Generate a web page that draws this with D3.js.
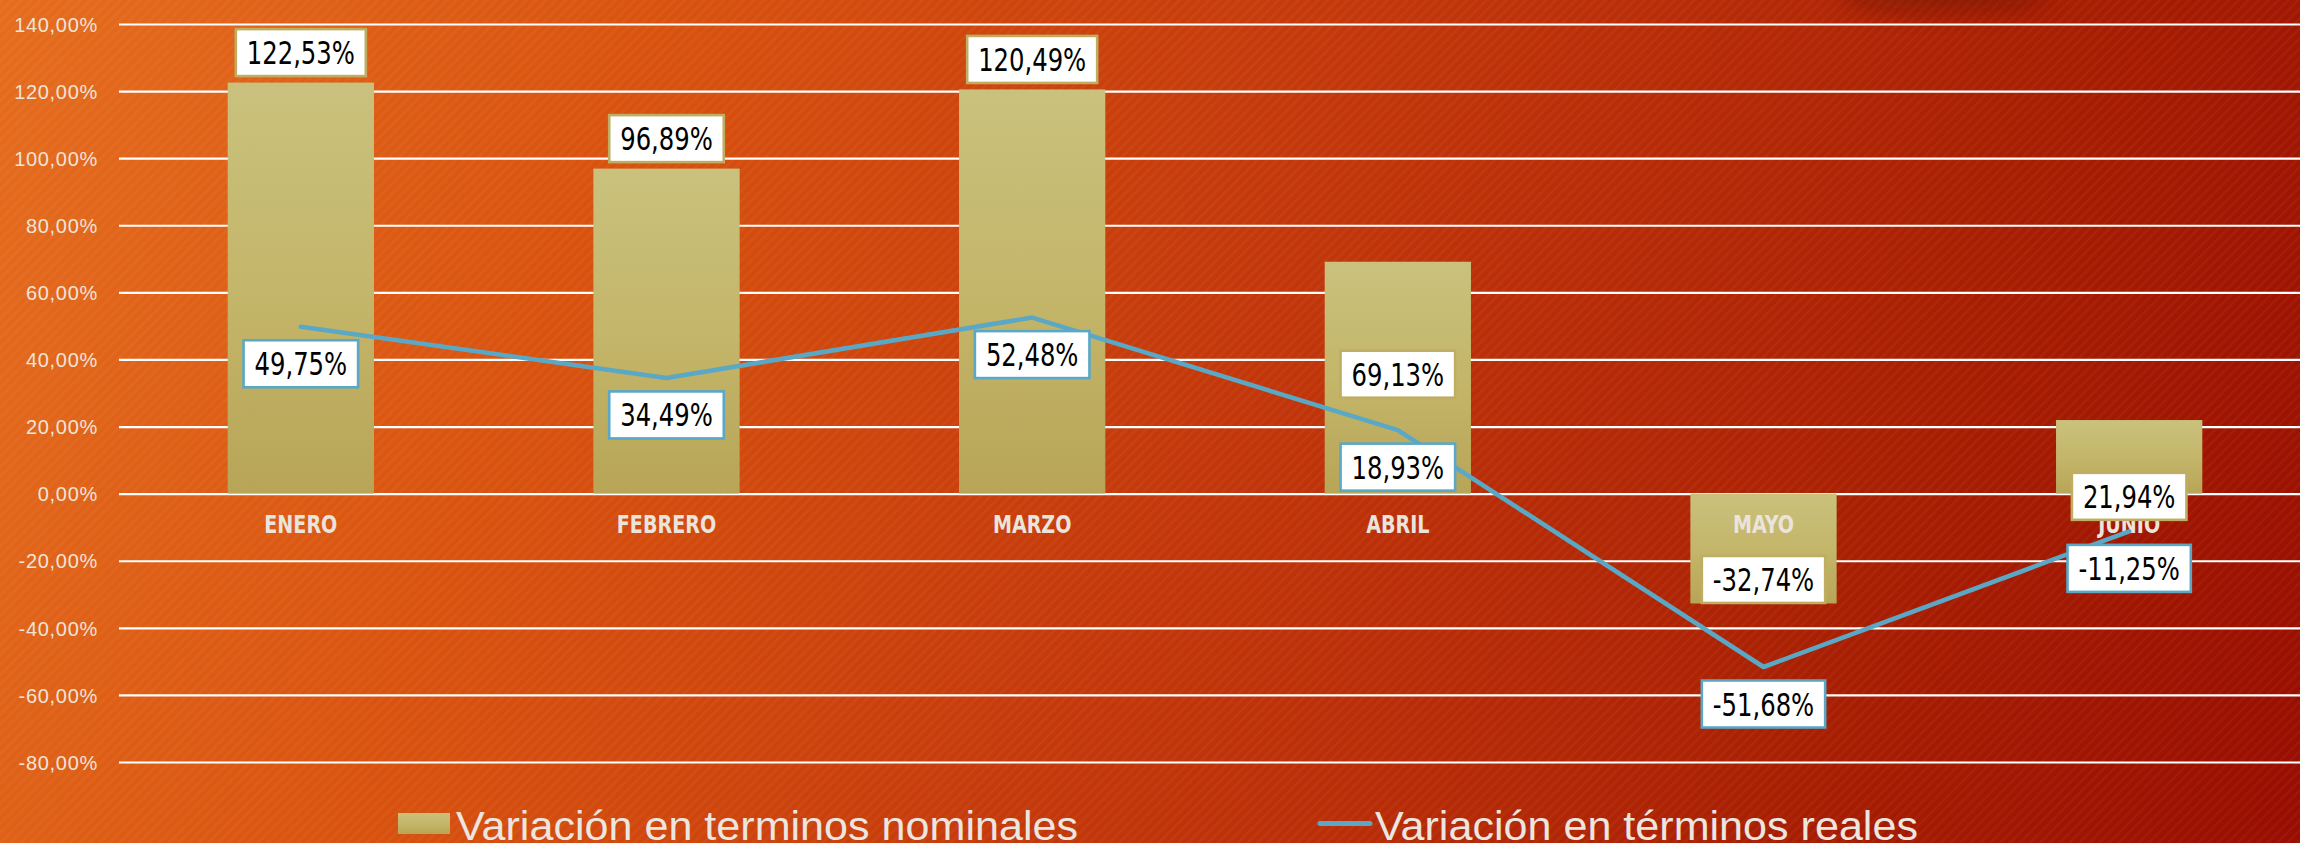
<!DOCTYPE html>
<html>
<head>
<meta charset="utf-8">
<script src="https://cdn.jsdelivr.net/npm/d3@7"></script>
<style>
  html, body { margin: 0; padding: 0; background: #c23a0c; }
  svg { display: block; }
</style>
</head>
<body>
<svg id="chart" width="2300" height="843"></svg>
<script>
// ---------- data ----------
const categories = ["ENERO", "FEBRERO", "MARZO", "ABRIL", "MAYO", "JUNIO"];
const nominal = [122.53, 96.89, 120.49, 69.13, -32.74, 21.94];
const real = [49.75, 34.49, 52.48, 18.93, -51.68, -11.25];
const yTicks = [-80, -60, -40, -20, 0, 20, 40, 60, 80, 100, 120, 140];
const seriesNames = ["Variación en terminos nominales", "Variación en términos reales"];
// label placement for the nominal bars (as in the original, some were moved by hand;
// numbers are the value at which the label is centred)
const nominalLabelPlacement = ["outside", "outside", "outside", 35.6, "insideEnd", -0.8];

// ---------- helpers ----------
const ratios = {};
function fitText(node, target, key) {
  const w = node.getComputedTextLength();
  if (target != null) ratios[key] = target / w;
  const r = ratios[key] || 1;
  if (Math.abs(r - 1) > 0.03) {
    node.setAttribute("textLength", w * r);
    node.setAttribute("lengthAdjust", "spacingAndGlyphs");
  }
  return w * r;
}

// ---------- layout ----------
const W = 2300, H = 843;
const svg = d3.select("#chart");
const defs = svg.append("defs");

const x = d3.scaleBand().domain(categories).range([118, 2312]).paddingInner(0.6).paddingOuter(0.3);
const y = d3.scaleLinear().domain([-80, 140]).range([762, 24]);

const fmt = v => v.toFixed(2).replace(".", ",") + "%";
const FONT = "'Liberation Sans Narrow', 'DejaVu Sans Condensed', 'Liberation Sans', Arial, sans-serif";
const FONT_W = "'Liberation Sans', Arial, sans-serif";

// background gradient
const bg = defs.append("linearGradient").attr("id", "bg")
  .attr("gradientUnits", "userSpaceOnUse").attr("x1", 0).attr("y1", 0).attr("x2", W).attr("y2", H);
bg.append("stop").attr("offset", 0).attr("stop-color", "#e56d1f");
bg.append("stop").attr("offset", 0.25).attr("stop-color", "#d9530f");
bg.append("stop").attr("offset", 0.55).attr("stop-color", "#c1350a");
bg.append("stop").attr("offset", 0.8).attr("stop-color", "#a81e02");
bg.append("stop").attr("offset", 1).attr("stop-color", "#980d00");

const stripes = defs.append("pattern").attr("id", "stripes")
  .attr("patternUnits", "userSpaceOnUse").attr("width", 7).attr("height", 7)
  .attr("patternTransform", "rotate(45)");
stripes.append("rect").attr("width", 2.5).attr("height", 7).attr("fill", "#ffffff").attr("opacity", 0.04);

const barGrad = defs.append("linearGradient").attr("id", "barGrad")
  .attr("x1", 0).attr("y1", 0).attr("x2", 0).attr("y2", 1);
barGrad.append("stop").attr("offset", 0).attr("stop-color", "#c9c17d");
barGrad.append("stop").attr("offset", 0.5).attr("stop-color", "#c4b66a");
barGrad.append("stop").attr("offset", 1).attr("stop-color", "#b8a557");

const blur = defs.append("filter").attr("id", "blur").attr("x", "-50%").attr("y", "-200%").attr("width", "200%").attr("height", "500%");
blur.append("feGaussianBlur").attr("stdDeviation", 12);

svg.append("rect").attr("width", W).attr("height", H).attr("fill", "url(#bg)");
svg.append("rect").attr("width", W).attr("height", H).attr("fill", "url(#stripes)");
svg.append("ellipse").attr("cx", 1945).attr("cy", -6).attr("rx", 105).attr("ry", 16)
  .attr("fill", "#5a0800").attr("opacity", 0.45).attr("filter", "url(#blur)");

// ---------- axis / gridlines ----------
const yAxis = d3.axisLeft(y).tickValues(yTicks).tickFormat(fmt)
  .tickSizeInner(-(W - 119)).tickSizeOuter(0).tickPadding(21);
const gAxis = svg.append("g").attr("transform", "translate(119,0)").call(yAxis);
gAxis.select(".domain").remove();
gAxis.selectAll(".tick line").attr("stroke", "#ffffff").attr("stroke-width", 2.2);
gAxis.selectAll(".tick text")
  .attr("fill", "#efe4da").attr("font-family", FONT_W).attr("font-size", 20)
  .attr("letter-spacing", 0.7).attr("dy", "0.36em");

// ---------- bars ----------
svg.append("g").selectAll("rect").data(nominal).join("rect")
  .attr("x", (d, i) => x(categories[i]))
  .attr("width", x.bandwidth())
  .attr("y", d => y(Math.max(0, d)))
  .attr("height", d => Math.abs(y(d) - y(0)))
  .attr("fill", "url(#barGrad)");

// ---------- category labels ----------
svg.append("g").selectAll("text").data(categories).join("text")
  .attr("x", d => x(d) + x.bandwidth() / 2)
  .attr("y", y(0) + 39)
  .attr("text-anchor", "middle")
  .attr("font-family", FONT).attr("font-weight", "bold").attr("font-size", 24)
  .attr("fill", "#ebe4dd")
  .text(d => d)
  .each(function (d) { fitText(this, d === "ENERO" ? 73 : null, "cat"); });

// ---------- line ----------
const lineColor = "#5aa8c6";
const line = d3.line().x((d, i) => x(categories[i]) + x.bandwidth() / 2).y(d => y(d));
svg.append("path").datum(real)
  .attr("d", line).attr("fill", "none").attr("stroke", lineColor)
  .attr("stroke-width", 4.6).attr("stroke-linecap", "round").attr("stroke-linejoin", "round");

// ---------- data labels ----------
function drawLabel(g, cx, cy, txt, border, isRef) {
  const grp = g.append("g");
  const rect = grp.append("rect");
  const t = grp.append("text")
    .attr("x", cx).attr("y", cy).attr("dy", "0.36em")
    .attr("text-anchor", "middle")
    .attr("font-family", FONT).attr("font-size", 32).attr("fill", "#000")
    .text(txt);
  const tw = fitText(t.node(), isRef ? 108 : null, "lbl");
  const bw = tw + 22, bh = 47;
  rect.attr("x", cx - bw / 2).attr("y", cy - bh / 2).attr("width", bw).attr("height", bh)
    .attr("fill", "#ffffff").attr("stroke", border).attr("stroke-width", 2.6);
}

const gLabels = svg.append("g");
nominal.forEach((v, i) => {
  const cx = x(categories[i]) + x.bandwidth() / 2;
  const p = nominalLabelPlacement[i];
  let cy;
  if (p === "outside") cy = v >= 0 ? y(v) - 30 : y(v) + 30;
  else if (p === "insideEnd") cy = v >= 0 ? y(v) + 24 : y(v) - 24;
  else cy = y(p);
  drawLabel(gLabels, cx, cy, fmt(v), "#bfae62", i === 0);
});
real.forEach((v, i) => {
  const cx = x(categories[i]) + x.bandwidth() / 2;
  drawLabel(gLabels, cx, y(v) + 37, fmt(v), lineColor, false);
});

// ---------- legend ----------
const lg = svg.append("g");
lg.append("rect").attr("x", 398).attr("y", 813).attr("width", 52).attr("height", 21).attr("fill", "url(#barGrad)");
const lt1 = lg.append("text").attr("x", 456).attr("y", 840)
  .attr("font-family", FONT_W).attr("font-size", 41).attr("fill", "#ece6e0").text(seriesNames[0]);
fitText(lt1.node(), 622, "leg");
lg.append("line").attr("x1", 1320).attr("x2", 1370).attr("y1", 823.5).attr("y2", 823.5)
  .attr("stroke", lineColor).attr("stroke-width", 5).attr("stroke-linecap", "round");
const lt2 = lg.append("text").attr("x", 1375).attr("y", 840)
  .attr("font-family", FONT_W).attr("font-size", 41).attr("fill", "#ece6e0").text(seriesNames[1]);
fitText(lt2.node(), null, "leg");
</script>
</body>
</html>
